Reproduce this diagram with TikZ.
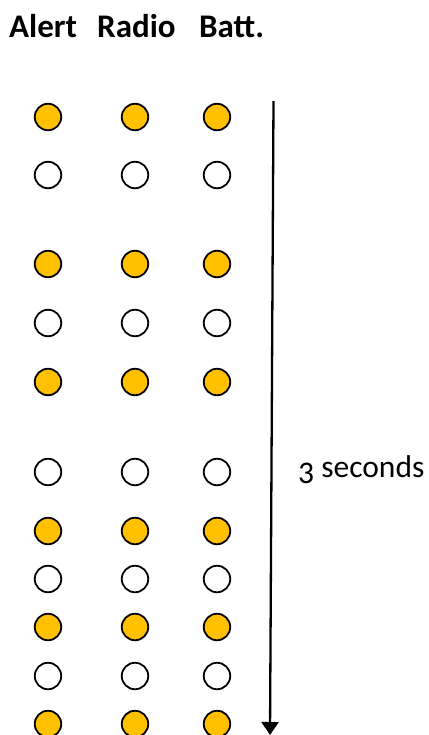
\documentclass[tikz,border=0pt]{standalone}
\usepackage{fontspec}
\setmainfont{Carlito}
\usepackage{xcolor}
\usepackage{tikz}
\usetikzlibrary{arrows.meta,positioning}
\definecolor{ledon}{RGB}{255,192,0}

\begin{document}
\begin{tikzpicture}[
  x=1pt, y=-1pt,
  led/.style={draw, circle, line width=1.8pt, minimum size=26.5pt, inner sep=0pt},
  ledlit/.style={led, fill=ledon},
  ledoff/.style={led, fill=white},
  head/.style={anchor=base west, inner sep=0pt, font=\fontsize{33}{38}\selectfont\bfseries},
  timeline/.style={-{Triangle[length=13pt, width=17pt]}, line width=2.3pt},
  label/.style={anchor=base west, inner sep=0pt, font=\fontsize{31.5}{36}\selectfont}
]
\useasboundingbox (0,0) rectangle (428,735);

% Column headings.
\node[head] (alert) at (9,38) {Alert};
\node[head] (radio) at (97,38) {Radio};
\node[head] (batt) at (199,38) {Batt.};

% LED rows: y position / lit or off.
\foreach \y/\st [count=\i] in {117/ledlit, 175/ledoff, 264/ledlit, 323/ledoff,
    382/ledlit, 472/ledoff, 531/ledlit, 579/ledoff, 627/ledlit, 676/ledoff, 724/ledlit} {
  \node[\st] (a\i) at (48,\y) {};
  \node[\st] (r\i) at (135,\y) {};
  \node[\st] (b\i) at (217,\y) {};
}

% Time axis.
\coordinate (tstart) at (273.5,101);
\coordinate (tend) at (270,735);
\draw[timeline] (tstart) -- (tend);
\node[label] (dur) at (298,477) {\raisebox{-6pt}{3} seconds};

\end{tikzpicture}
\end{document}
